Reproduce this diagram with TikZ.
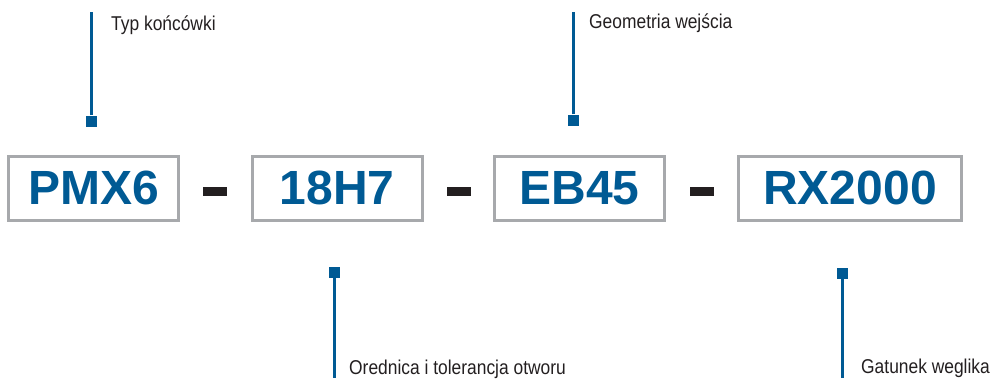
\documentclass[tikz,border=0pt]{standalone}
\usepackage{fontspec}
\setmainfont{Liberation Sans}
\newfontfamily\labelfont[FakeStretch=0.87]{Liberation Sans}
\definecolor{codeblue}{HTML}{005A94}
\definecolor{boxgray}{HTML}{A7A9AC}
\definecolor{darktext}{HTML}{231F20}
\tikzset{
    codebox/.style={draw=boxgray, line width=3pt, minimum width=170pt, minimum height=64pt,
        inner sep=0pt, text=codeblue, font=\bfseries\fontsize{48}{48}\selectfont},
    sepdash/.style={fill=darktext, minimum width=24pt, minimum height=9pt, inner sep=0pt},
    marker/.style={fill=codeblue, minimum size=11pt, inner sep=0pt},
    leader/.style={codeblue, line width=2.4pt},
    lbl/.style={anchor=base west, inner sep=0pt, text=darktext, font=\labelfont\fontsize{20}{24}\selectfont}
}
\begin{document}
\begin{tikzpicture}[x=1pt, y=-1pt]
    \useasboundingbox (0,0) rectangle (993,378);

    % Code boxes
    \node[codebox] (pmx) at (93.7,188.3) {PMX6};
    \node[codebox] (dia) at (337,188.3) {18H7};
    \node[codebox] (geo) at (579.5,188.3) {EB45};
    \node[codebox, minimum width=223pt] (grade) at (850,188.3) {RX2000};

    % Dashes
    \node[sepdash] (d1) at (215,191.3) {};
    \node[sepdash] (d2) at (458.5,191.3) {};
    \node[sepdash] (d3) at (701.5,191.3) {};

    % Markers
    \node[marker] (m1) at (91.5,121) {};
    \node[marker] (m2) at (573.5,120) {};
    \node[marker] (m3) at (334.5,272.5) {};
    \node[marker] (m4) at (842.5,273.5) {};

    % Leader lines
    \coordinate (t1) at (91.5,12);
    \coordinate (t2) at (573.5,12);
    \coordinate (b3) at (334.5,378);
    \coordinate (b4) at (842.5,378);
    \draw[leader] (m1) -- (t1);
    \draw[leader] (m2) -- (t2);
    \draw[leader] (m3) -- (b3);
    \draw[leader] (m4) -- (b4);

    % Labels
    \node[lbl] (l1) at (111,30) {Typ końcówki};
    \node[lbl] (l2) at (589,28) {Geometria wejścia};
    \node[lbl] (l3) at (349,374) {Orednica i tolerancja otworu};
    \node[lbl] (l4) at (861,373) {Gatunek weglika};
\end{tikzpicture}
\end{document}
